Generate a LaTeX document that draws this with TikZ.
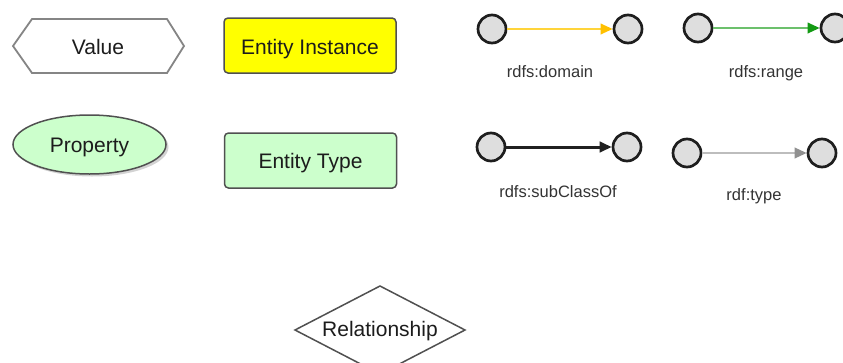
\documentclass[tikz,border=0pt]{standalone}
\usepackage{fontspec}
\setmainfont{Liberation Sans}
\usetikzlibrary{arrows.meta,shapes.geometric,shadows}

\definecolor{instfill}{HTML}{FFFF00}
\definecolor{typefill}{HTML}{CCFFCC}
\definecolor{boxline}{HTML}{505050}
\definecolor{hexline}{HTML}{858585}
\definecolor{dotfill}{HTML}{DEDEDE}
\definecolor{dotline}{HTML}{1E1E1E}
\definecolor{domline}{HTML}{FFD43A}
\definecolor{domhead}{HTML}{FFC000}
\definecolor{rngline}{HTML}{6CC06C}
\definecolor{rnghead}{HTML}{139A13}
\definecolor{subline}{HTML}{202020}
\definecolor{typline}{HTML}{BDBDBD}
\definecolor{typhead}{HTML}{909090}
\definecolor{txt}{HTML}{1C1C1C}
\definecolor{lbl}{HTML}{333333}

\tikzset{
  bigtext/.style={font=\fontsize{21}{25}\selectfont, text=txt},
  smalltext/.style={font=\fontsize{16.5}{20}\selectfont, text=lbl, anchor=base},
  legendbox/.style={draw=boxline, line width=1.5pt, rounded corners=4pt,
    minimum width=172pt, minimum height=55pt, inner sep=0pt},
  propshape/.style={ellipse, draw=boxline, line width=1.5pt, fill=typefill,
    minimum width=153pt, minimum height=59pt, inner sep=0pt,
    drop shadow={shadow xshift=2.5pt, shadow yshift=-2.5pt, opacity=0.35}},
  caption/.style={bigtext, anchor=base},
  dot/.style={circle, draw=dotline, fill=dotfill, line width=2.7pt,
    minimum size=28pt, inner sep=0pt},
  link/.style={line width=#1, shorten <=-0.5pt},
  tip/.style={-{Triangle[length=12pt, width=10.5pt, fill=#1, color=#1]}},
}

\begin{document}
\begin{tikzpicture}[x=1pt, y=-1pt]
  \useasboundingbox (0,0) rectangle (843,362);
  \clip (0,0) rectangle (843,362);

  % Value: hexagon
  \draw[draw=hexline, line width=1.8pt, fill=white]
    (13,46) -- (32,19) -- (167,19) -- (184,46) -- (167,73) -- (32,73) -- cycle;
  \node[caption] (value) at (98,54) {Value};

  % Entity instance and entity type boxes
  \node[legendbox, fill=instfill] (inst) at (310,45.5) {};
  \node[caption] (instlab) at (310,54) {Entity Instance};
  \node[legendbox, fill=typefill] (etype) at (310.5,160.5) {};
  \node[caption] (etypelab) at (310.5,168) {Entity Type};

  % Property: ellipse
  \node[propshape] (prop) at (89.5,144.5) {};
  \node[caption] (proplab) at (89.5,152) {Property};

  % Relationship: diamond
  \draw[draw=boxline, line width=1.5pt, fill=white]
    (295,330) -- (380,286) -- (465,330) -- (380,374) -- cycle;
  \node[caption] (rel) at (380,336) {Relationship};

  % rdfs:domain
  \node[dot] (d1) at (492,29) {};
  \node[dot] (d2) at (628,29) {};
  \draw[link=2pt, draw=domline, tip=domhead] (d1) -- (d2);
  \node[smalltext] (dlab) at (550,77) {rdfs:domain};

  % rdfs:range
  \node[dot] (r1) at (698,28) {};
  \node[dot] (r2) at (835,28) {};
  \draw[link=2pt, draw=rngline, tip=rnghead] (r1) -- (r2);
  \node[smalltext] (rlab) at (766,77) {rdfs:range};

  % rdfs:subClassOf
  \node[dot] (s1) at (491,147) {};
  \node[dot] (s2) at (627,147) {};
  \draw[link=3pt, draw=subline, tip=subline] (s1) -- (s2);
  \node[smalltext] (slab) at (558,197) {rdfs:subClassOf};

  % rdf:type
  \node[dot] (t1) at (687,153) {};
  \node[dot] (t2) at (822,153) {};
  \draw[link=2.2pt, draw=typline, tip=typhead] (t1) -- (t2);
  \node[smalltext] (tlab) at (754,200) {rdf:type};
\end{tikzpicture}
\end{document}
